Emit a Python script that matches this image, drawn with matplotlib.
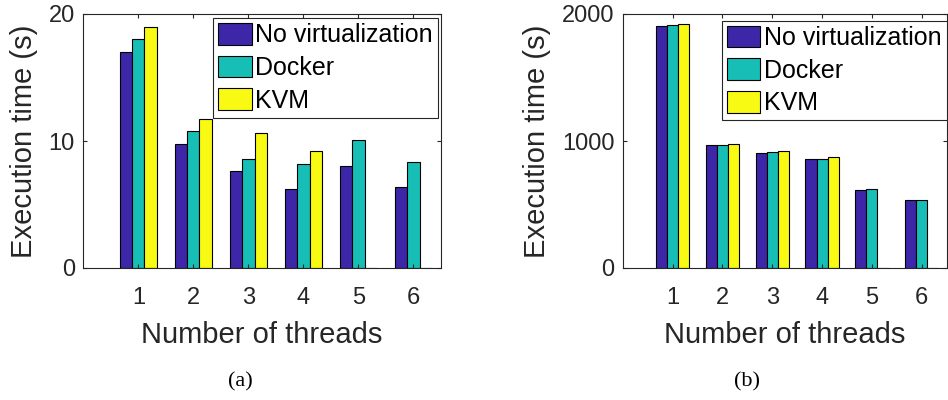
import numpy as np
import matplotlib.pyplot as plt

# data
threads = [1, 2, 3, 4, 5, 6]
series = ['No virtualization', 'Docker', 'KVM']

time_a_native = [17.0, 9.75, 7.6, 6.2, 8.05, 6.35]
time_a_docker = [18.0, 10.75, 8.6, 8.2, 10.05, 8.35]
time_a_kvm = [19.0, 11.75, 10.6, 9.2, 0, 0]

time_b_native = [1905, 966, 905, 856, 617, 533]
time_b_docker = [1911, 971, 911, 858, 619, 535]
time_b_kvm = [1919, 976, 919, 871, 0, 0]

colors = ['#3e26a8', '#17beb5', '#f9fa14']
plt.rcParams['font.family'] = ['Liberation Sans', 'DejaVu Sans']

fig = plt.figure(figsize=(9.48, 4.0), dpi=100)
ax_a = fig.add_axes([83.3 / 948, 1 - 268 / 400, (441 - 83.3) / 948, 254 / 400])
ax_b = fig.add_axes([622.7 / 948, 1 - 268 / 400, (946.7 - 622.7) / 948, 254 / 400])


def draw(ax, data, ymax, yticks, legend_anchor):
    x = np.array(threads, dtype=float)
    w = 0.667 / 3
    for k, (vals, c, name) in enumerate(zip(data, colors, series)):
        ax.bar(x + (k - 1) * w, vals, width=w, color=c, edgecolor='black',
               linewidth=0.8, label=name)
    ax.set_xlim(0, 6.5)
    ax.set_ylim(0, ymax)
    ax.set_xticks(threads)
    ax.set_yticks(yticks)
    ax.tick_params(direction='in', length=3, width=0.8, top=True, right=True,
                   labelsize=17, colors='#262626')
    ax.tick_params(axis='x', pad=14)
    ax.tick_params(axis='y', pad=6)
    for s in ax.spines.values():
        s.set_color('#262626')
        s.set_linewidth(0.8)
    ax.set_xlabel('Number of threads', fontsize=21, color='#262626', labelpad=8)
    ax.set_ylabel('Execution time (s)', fontsize=21, color='#262626', labelpad=8)
    leg = ax.legend(loc='upper right', bbox_to_anchor=legend_anchor,
                    bbox_transform=fig.transFigure, fontsize=18, fancybox=False,
                    framealpha=1, edgecolor='#262626', handlelength=1.35,
                    handleheight=0.95, handletextpad=0.15, labelspacing=0.33,
                    borderpad=0.2, borderaxespad=0)
    leg.get_frame().set_linewidth(0.8)


draw(ax_a, [time_a_native, time_a_docker, time_a_kvm], 20, [0, 10, 20],
     (438 / 948, 1 - 18 / 400))
draw(ax_b, [time_b_native, time_b_docker, time_b_kvm], 2000, [0, 1000, 2000],
     (946.7 / 948, 1 - 20.7 / 400))

fig.text(240 / 948, 1 - 382 / 400, '(a)', family='Liberation Serif', fontsize=16,
         ha='center', va='center')
fig.text(747 / 948, 1 - 382 / 400, '(b)', family='Liberation Serif', fontsize=16,
         ha='center', va='center')

fig.savefig('out.png', dpi=100)
